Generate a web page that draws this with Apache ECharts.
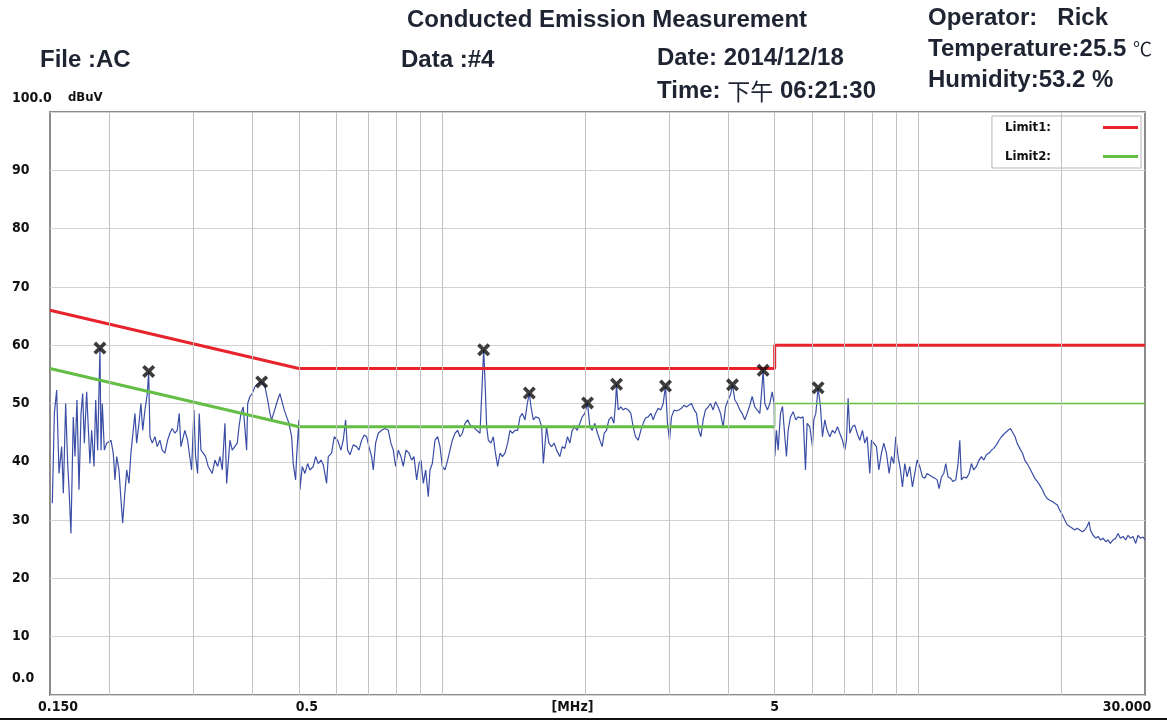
<!DOCTYPE html>
<html>
<head>
<meta charset="utf-8">
<title>Conducted Emission Measurement</title>
<script src="https://cdn.jsdelivr.net/npm/echarts@6/dist/echarts.min.js"></script>
<style>
  html, body { margin: 0; padding: 0; background: #fff; }
  #chart { width: 1167px; height: 720px; }
</style>
</head>
<body>
<div id="chart"></div>
<script>
// limit lines (MHz / dBuV)
var limitFreq = [0.15, 0.5, 5, 5, 30];
var limit1Level = [66, 56, 56, 60, 60];
var limit2Level = [56, 46, 46, 50, 50];

// peaks marked with a cross
var peakFreq = [0.1910, 0.2418, 0.4177, 1.2230, 1.5253, 2.0214, 2.3258, 2.9480, 4.0765, 4.7285, 6.169];
var peakLevel = [59.5, 55.5, 53.7, 59.2, 51.8, 50.1, 53.3, 53.0, 53.2, 55.7, 52.7];

// x axis labels and vertical grid lines
var xLabelValues = [0.15, 0.5, 5, 30];
var gridFreq = [0.2, 0.3, 0.4, 0.5, 0.6, 0.7, 0.8, 0.9, 1, 2, 3, 4, 5, 6, 7, 8, 9, 10, 20];

// scan trace [MHz, dBuV]
var scanPoints = [
  [0.1517,32.9],[0.1532,48.3],[0.1549,52.3],[0.1567,38.0],[0.1587,42.6],[0.1600,34.6],[0.1618,50.0],[0.1634,39.7],[0.1644,35.7],[0.1660,27.7],
  [0.1679,47.7],[0.1693,40.9],[0.1709,50.6],[0.1726,35.2],[0.1743,48.3],[0.1757,51.7],[0.1771,43.2],[0.1791,52.0],[0.1820,39.7],[0.1835,45.4],
  [0.1856,39.2],[0.1871,50.6],[0.1889,42.0],[0.1910,59.5],[0.1920,42.0],[0.1932,50.0],[0.1951,42.0],[0.1973,43.2],[0.2015,43.7],[0.2037,41.5],
  [0.2054,36.9],[0.2071,40.9],[0.2094,38.6],[0.2115,33.4],[0.2132,29.5],[0.2149,33.4],[0.2174,38.6],[0.2198,36.3],[0.2219,41.5],[0.2244,45.4],
  [0.2263,48.3],[0.2281,43.2],[0.2307,46.6],[0.2329,50.0],[0.2349,45.4],[0.2375,48.9],[0.2402,51.7],[0.2418,55.5],[0.2433,44.3],[0.2460,43.2],
  [0.2492,44.3],[0.2520,42.6],[0.2553,43.7],[0.2581,42.0],[0.2615,41.5],[0.2650,43.7],[0.2679,44.9],[0.2709,45.7],[0.2745,44.9],[0.2776,45.4],
  [0.2803,48.3],[0.2826,42.6],[0.2881,45.4],[0.2919,43.7],[0.2976,38.6],[0.3010,48.9],[0.3034,40.9],[0.3064,38.0],[0.3088,48.3],[0.3114,42.0],
  [0.3148,41.5],[0.3185,40.9],[0.3225,39.2],[0.3288,38.0],[0.3332,40.3],[0.3376,39.2],[0.3414,40.9],[0.3452,38.6],[0.3497,46.6],[0.3526,36.3],
  [0.3583,43.7],[0.3623,42.0],[0.3712,43.2],[0.3743,46.0],[0.3779,48.3],[0.3821,49.4],[0.3884,42.0],[0.3904,50.0],[0.3947,51.2],[0.3991,51.7],
  [0.4044,52.9],[0.4109,53.5],[0.4177,53.7],[0.4244,52.9],[0.4300,50.6],[0.4348,48.3],[0.4384,47.2],[0.4513,50.6],[0.4563,51.7],[0.4659,48.9],
  [0.4713,47.7],[0.4766,46.6],[0.4829,44.3],[0.4866,39.7],[0.4923,36.9],
  [0.4947,40.9],[0.5003,47.2],[0.5027,35.2],[0.5084,39.2],[0.5150,38.0],[0.5217,39.7],[0.5276,38.6],[0.5362,39.2],[0.5423,40.9],[0.5493,39.7],
  [0.5565,40.3],[0.5628,39.5],[0.5719,36.3],[0.5766,40.9],[0.5859,41.5],[0.5935,44.3],[0.6032,43.7],[0.6130,42.0],[0.6199,43.7],[0.6270,47.2],
  [0.6331,42.0],[0.6403,41.2],[0.6507,42.9],[0.6613,42.6],[0.6688,42.0],[0.6775,43.7],[0.6863,44.6],[0.6941,44.3],[0.7020,42.6],[0.7111,40.9],
  [0.7168,38.6],[0.7250,43.2],[0.7344,44.9],[0.7464,45.4],[0.7585,45.7],[0.7708,45.4],[0.7808,43.2],[0.7897,42.0],[0.7987,39.2],[0.8091,42.0],
  [0.8196,40.9],[0.8289,39.2],[0.8397,42.0],[0.8520,41.5],[0.8630,40.3],[0.8729,40.9],[0.8842,36.9],[0.8943,39.7],[0.9029,40.3],[0.9132,36.3],
  [0.9236,38.6],[0.9355,34.0],[0.9432,38.6],[0.9539,39.7],[0.9663,43.7],[0.9788,44.3],[0.9899,42.6],[1.0012,39.2],[1.0142,38.6],[1.0274,40.3],
  [1.0391,42.0],[1.0509,43.7],[1.0645,44.9],[1.0783,45.4],[1.0906,44.3],[1.1030,44.9],[1.1173,46.6],[1.1318,47.2],[1.1447,46.3],[1.1633,46.0],
  [1.1822,45.4],[1.2014,44.9],[1.2150,54.0],[1.2230,59.2],[1.2308,54.0],[1.2408,46.0],[1.2509,43.7],[1.2671,43.2],[1.2814,44.3],[1.2918,42.0],
  [1.3086,39.2],[1.3235,41.5],[1.3386,40.9],[1.3559,41.5],[1.3735,43.2],[1.3891,45.4],[1.4048,44.9],[1.4231,45.4],[1.4416,45.4],[1.4579,47.7],
  [1.4745,48.3],[1.4936,47.2],[1.5106,50.0],[1.5253,51.8],[1.5377,49.4],[1.5551,47.2],[1.5727,47.7],[1.5983,47.5],[1.6191,46.0],[1.6322,39.7],
  [1.6577,46.0],[1.6765,43.2],[1.6983,42.6],[1.7204,43.2],[1.7399,42.0],[1.7682,40.9],[1.7882,42.6],[1.8114,42.3],[1.8349,44.3],[1.8558,43.2],
  [1.8768,45.4],[1.9012,46.0],[1.9228,45.4],[1.9478,46.6],[1.9699,47.7],[1.9955,48.3],[2.0214,50.1],[2.0444,46.0],[2.0676,45.4],[2.0944,46.6],
  [2.1216,44.9],[2.1457,43.7],[2.1700,42.6],[2.1911,44.9],[2.2160,45.4],[2.2411,47.2],[2.2702,47.7],[2.2960,46.6],[2.3146,50.0],[2.3258,53.3],
  [2.3446,48.9],[2.3751,49.4],[2.4021,48.9],[2.4293,49.2],[2.4609,48.9],[2.4928,48.3],[2.5211,46.0],[2.5497,44.3],[2.5828,43.7],[2.6164,45.4],
  [2.6461,46.6],[2.6761,47.5],[2.7109,47.7],[2.7461,48.3],[2.7773,47.2],[2.8088,48.3],[2.8453,49.2],[2.8822,48.9],[2.9149,50.0],[2.9480,53.0],
  [2.9766,46.6],[3.0056,43.7],[3.0348,47.7],[3.0742,48.9],[3.1091,48.7],[3.1444,48.9],[3.1852,49.2],[3.2265,49.7],[3.2632,49.4],[3.3002,49.7],
  [3.3431,50.0],[3.3865,48.9],[3.4249,48.3],[3.4638,45.4],[3.4975,44.3],[3.5372,47.2],[3.5773,48.9],[3.6238,49.4],[3.6649,50.0],[3.7125,48.9],
  [3.7547,50.3],[3.8034,49.4],[3.8466,48.3],[3.8965,46.0],[3.9408,49.4],[3.9919,50.6],[4.0372,51.5],[4.0765,53.2],[4.1228,50.6],[4.1696,50.0],
  [4.2237,48.9],[4.2717,48.3],[4.3271,47.2],[4.3763,48.3],[4.4331,49.7],[4.4834,51.2],[4.5416,49.4],[4.5931,48.9],[4.6528,48.3],[4.6905,51.7],
  [4.7285,55.7],[4.7668,50.0],[4.8287,48.9],[4.8835,50.0],[4.9389,52.0],[4.9870,50.0],
  [5.003,40.9],[5.043,45.4],[5.084,42.0],[5.142,48.3],[5.192,49.5],[5.251,44.3],[5.293,40.9],[5.336,45.4],[5.397,47.7],[5.467,48.6],
  [5.538,47.2],[5.600,47.7],[5.664,47.5],[5.738,47.7],[5.803,38.6],[5.850,46.6],[5.926,46.0],[6.003,42.6],[6.041,47.2],[6.100,48.3],
  [6.169,52.7],[6.239,49.5],[6.300,44.3],[6.372,47.2],[6.444,45.4],[6.528,44.3],[6.612,45.4],[6.688,44.9],[6.774,46.0],[6.851,44.9],
  [6.940,43.7],[7.019,42.0],[7.076,43.7],[7.133,50.9],[7.191,44.9],[7.284,46.0],[7.367,46.3],[7.451,44.9],[7.547,43.7],[7.645,45.4],
  [7.732,43.2],[7.820,44.3],[7.921,38.0],[7.985,43.7],[8.076,43.2],[8.181,42.6],[8.274,38.6],[8.381,41.5],[8.476,43.2],[8.586,41.5],
  [8.698,38.0],[8.797,40.9],[8.897,39.7],[8.983,44.3],[9.085,40.9],[9.188,38.6],[9.278,35.7],[9.383,39.7],[9.489,37.4],[9.613,39.2],
  [9.737,35.7],[9.848,38.0],[9.960,40.3],[10.089,39.2],[10.220,37.4],[10.336,37.2],[10.453,38.0],[10.589,37.7],[10.727,37.4],[10.848,37.2],
  [10.972,36.9],[11.078,35.4],[11.204,37.4],[11.331,38.0],[11.441,39.7],[11.571,37.4],[11.702,37.2],[11.854,36.6],[12.008,36.9],[12.145,39.7],
  [12.243,43.7],[12.342,36.9],[12.482,37.4],[12.644,37.2],[12.808,38.0],[12.954,39.7],[13.101,38.6],[13.271,39.2],[13.443,40.3],[13.596,40.9],
  [13.750,40.3],[13.928,41.2],[14.109,41.5],[14.270,42.0],[14.431,42.3],[14.619,42.9],[14.809,43.7],[14.977,44.3],[15.220,44.9],[15.467,45.4],
  [15.643,45.7],[15.846,44.9],[16.000,44.3],[16.156,43.2],[16.365,42.3],[16.578,41.5],[16.766,40.3],[16.956,39.7],[17.176,38.9],[17.399,38.0],
  [17.597,37.2],[17.825,36.6],[18.027,36.0],[18.262,35.2],[18.468,34.3],[18.678,33.7],[18.921,33.4],[19.166,33.2],[19.384,32.9],[19.636,32.6],
  [19.859,31.7],[20.116,30.9],[20.345,30.0],[20.576,29.2],[20.843,28.9],[21.114,28.6],[21.353,28.3],[21.595,28.6],[21.876,28.3],[22.160,28.0],
  [22.411,28.3],[22.666,28.9],[22.886,29.7],[23.034,28.3],[23.333,27.4],[23.636,26.9],[23.905,27.2],[24.176,26.6],[24.490,26.9],[24.807,26.3],
  [25.089,26.6],[25.374,26.0],[25.703,26.6],[26.037,26.9],[26.332,27.7],[26.631,26.9],[26.977,27.2],[27.328,26.6],[27.637,27.4],[27.951,26.9],
  [28.314,27.2],[28.682,26.0],[29.007,27.4],[29.337,26.9],[29.718,27.1],[30.000,26.6]
];

function zip(xs, ys) {
  return xs.map(function (x, i) { return [x, ys[i]]; });
}

var headFont = '"Liberation Sans", Arial, sans-serif';
var smallFont = '"DejaVu Sans Condensed", "Liberation Sans", sans-serif';
var ink = '#1f2433';

function head(text, left, top, extra) {
  var t = {
    text: text, left: left, top: top, padding: 0,
    textStyle: { fontFamily: headFont, fontWeight: 'bold', fontSize: 24, color: ink }
  };
  if (extra) t.textStyle.rich = extra;
  return t;
}

var cjk = { fontFamily: '"Noto Sans CJK SC", sans-serif', fontWeight: 'normal', fontSize: 23, color: ink };

var myChart = echarts.init(document.getElementById('chart'));

var option = {
  animation: false,
  backgroundColor: '#fff',
  title: [
    head('Conducted Emission Measurement', 407, 8),
    head('File :AC', 40, 48),
    head('Data :#4', 401, 48),
    head('Date: 2014/12/18', 657, 46),
    head('{b|Time:} {c|下午} {b|06:21:30}', 657, 79, { b: {}, c: cjk }),
    head('Operator:   Rick', 928, 6),
    head('Temperature:25.5 {c|℃}', 928, 37, { c: { fontFamily: '"Noto Sans CJK SC", sans-serif', fontWeight: 'normal', fontSize: 19, color: ink } }),
    head('Humidity:53.2 %', 928, 68)
  ],
  grid: {
    left: 50, right: 22, top: 112, bottom: 25,
    containLabel: false, outerBoundsMode: 'none',
    show: true, borderColor: '#8c8c8c', borderWidth: 2, backgroundColor: '#fff'
  },
  legend: {
    data: ['Limit1', 'Limit2'],
    orient: 'vertical', right: 26, top: 116,
    icon: 'rect', itemWidth: 35, itemHeight: 3, itemGap: 16, align: 'right',
    backgroundColor: '#fff', borderColor: '#b4b4b4', borderWidth: 1, padding: [5, 3, 5, 13],
    selectedMode: false,
    formatter: '{name}:',
    textStyle: { fontFamily: smallFont, fontWeight: 'bold', fontSize: 13, color: '#111', padding: [0, 47, 0, 0] }
  },
  xAxis: {
    type: 'log', logBase: 10, min: 0.15, max: 30,
    name: '[MHz]', nameLocation: 'middle', nameGap: 5, nameMoveOverlap: false,
    nameTextStyle: { fontFamily: smallFont, fontWeight: 'bold', fontSize: 14, color: '#111', padding: [0, 50, 0, 0] },
    axisLine: { show: false }, axisTick: { show: false }, splitLine: { show: false },
    axisLabel: {
      customValues: xLabelValues,
      margin: 5,
      fontFamily: smallFont, fontWeight: 'bold', fontSize: 14, color: '#111',
      formatter: function (v) {
        if (Math.abs(v - 0.15) < 1e-6) return '{l|0.150}';
        if (Math.abs(v - 0.5) < 1e-6) return '{l|0.5}';
        if (Math.abs(v - 30) < 1e-6) return '{r|30.000}';
        return String(v);
      },
      rich: { l: { padding: [0, 0, 0, 16] }, r: { padding: [0, 36, 0, 0] } }
    }
  },
  yAxis: {
    type: 'value', min: 0, max: 100, interval: 10,
    name: 'dBuV', nameLocation: 'end', nameGap: 8,
    nameTextStyle: { fontFamily: smallFont, fontWeight: 'bold', fontSize: 13, color: '#111', align: 'left', padding: [0, 0, 0, 18] },
    axisLine: { show: false }, axisTick: { show: false },
    splitLine: { lineStyle: { color: '#d2d2d2', width: 1 } },
    axisLabel: {
      align: 'left', margin: 38,
      fontFamily: smallFont, fontWeight: 'bold', fontSize: 14, color: '#111',
      formatter: function (v) {
        if (v === 0) return '{lo|0.0}';
        if (v === 100) return '{hi|100.0}';
        return String(v);
      },
      rich: { lo: { padding: [0, 0, 34, 0] }, hi: { padding: [0, 0, 28, 0] } }
    }
  },
  series: [
    {
      name: 'grid', type: 'line', data: [], z: 1, silent: true,
      markLine: {
        silent: true, symbol: ['none', 'none'], label: { show: false },
        lineStyle: { color: '#c2c2c2', width: 1, type: 'solid' },
        data: gridFreq.map(function (f) { return { xAxis: f }; })
      }
    },
    {
      name: 'Scan', type: 'line', data: scanPoints, z: 2, showSymbol: false, symbol: 'none',
      lineStyle: { color: '#3b4ea6', width: 1.2 }
    },
    {
      name: 'Limit1', type: 'line', data: zip(limitFreq, limit1Level), z: 3, symbol: 'none',
      itemStyle: { color: '#e8232b' }, lineStyle: { color: '#e8232b', width: 3 }
    },
    {
      name: 'Limit2', type: 'line', data: zip(limitFreq.slice(0, 3), limit2Level.slice(0, 3)), z: 3, symbol: 'none',
      itemStyle: { color: '#64bd45' }, lineStyle: { color: '#64bd45', width: 3 }
    },
    {
      name: 'Limit2', type: 'line', data: zip(limitFreq.slice(2), limit2Level.slice(2)), z: 3, symbol: 'none',
      itemStyle: { color: '#64bd45' }, lineStyle: { color: '#64bd45', width: 1.5 }
    },
    {
      name: 'Peaks', type: 'scatter', data: zip(peakFreq, peakLevel), z: 5,
      symbol: 'path://M0,2 L2,0 L5,3 L8,0 L10,2 L7,5 L10,8 L8,10 L5,7 L2,10 L0,8 L3,5 Z',
      symbolSize: 13, itemStyle: { color: '#0d0d0d' }
    }
  ],
  graphic: [
    { type: 'rect', left: 0, bottom: 0, shape: { width: 1167, height: 2 }, style: { fill: '#111' } }
  ]
};

myChart.setOption(option);
</script>
</body>
</html>
